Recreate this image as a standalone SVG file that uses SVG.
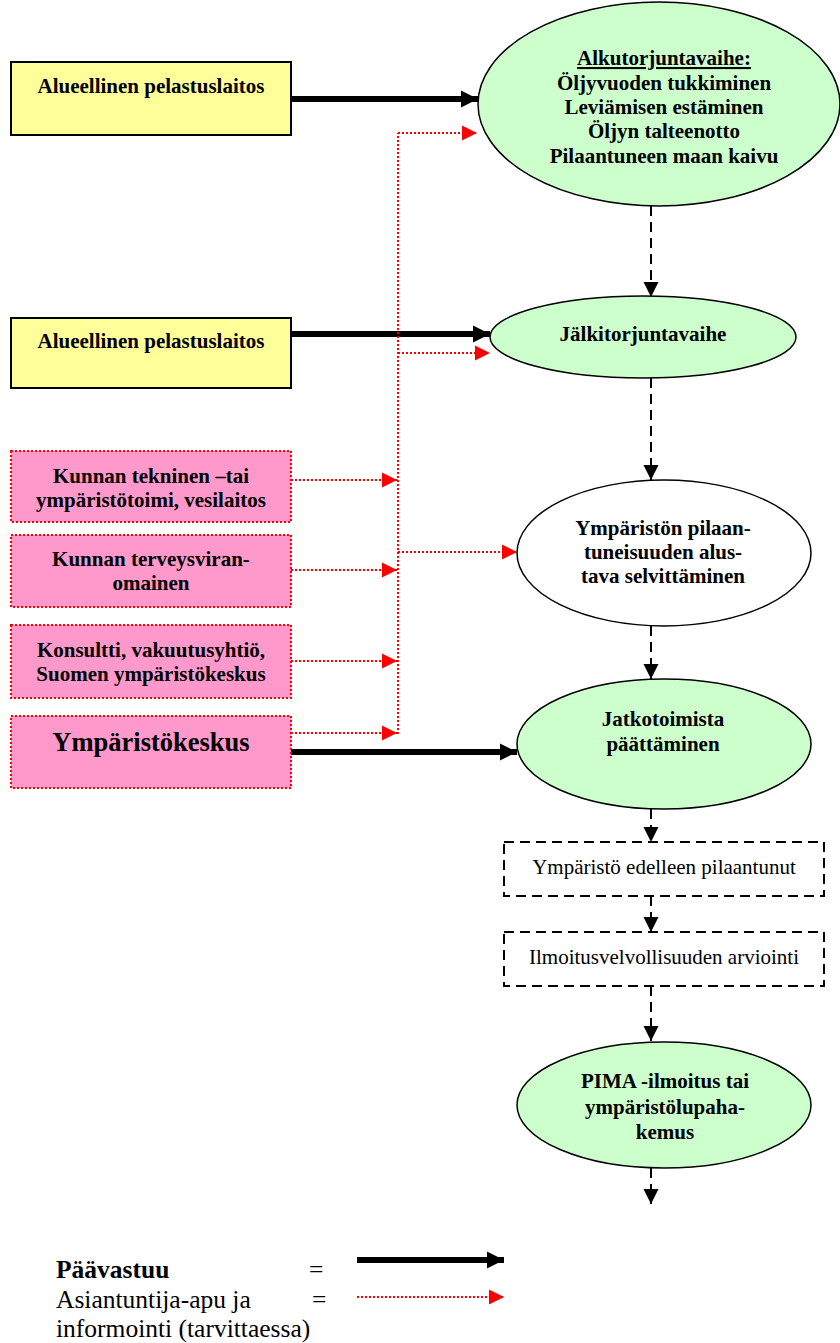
<svg xmlns="http://www.w3.org/2000/svg" width="840" height="1343" viewBox="0 0 840 1343">
<style>
.b{font-family:"Liberation Serif","Times New Roman",serif;font-weight:bold;font-size:21px;fill:#000;text-anchor:middle}
.n{font-family:"Liberation Serif","Times New Roman",serif;font-size:21px;fill:#000;text-anchor:middle}
.yl{fill:#FFFF99;stroke:#000;stroke-width:2}
.pk{fill:#FF99CC;stroke:#FF0000;stroke-width:2;stroke-dasharray:2,2}
.el{fill:#CCFFCC;stroke:#000;stroke-width:1.5}
.dbox{fill:#fff;stroke:#000;stroke-width:2;stroke-dasharray:10,6}
.main{stroke:#000;stroke-width:6;fill:none}
.red{stroke:#FF0000;stroke-width:2;stroke-dasharray:2,2;fill:none}
.dash{stroke:#000;stroke-width:2;stroke-dasharray:10,6;fill:none}
.lg{font-family:"Liberation Serif","Times New Roman",serif;font-size:25.5px;fill:#000}
</style>
<defs>
<marker id="hb" markerWidth="18" markerHeight="18" refX="17" refY="9" orient="auto" markerUnits="userSpaceOnUse"><path d="M0,0.5 L17,9 L0,17.5 Z" fill="#000"/></marker>
<marker id="hr" markerWidth="16" markerHeight="16" refX="15" refY="8" orient="auto" markerUnits="userSpaceOnUse"><path d="M0,0.5 L15,8 L0,15.5 Z" fill="#FF0000"/></marker>
<marker id="hd" markerWidth="16" markerHeight="16" refX="15" refY="8" orient="auto" markerUnits="userSpaceOnUse"><path d="M0,0.5 L15,8 L0,15.5 Z" fill="#000"/></marker>
</defs>

<g id="connectors">
<path class="main" d="M291,99 H478" marker-end="url(#hb)"/>
<path class="main" d="M291,334 H490" marker-end="url(#hb)"/>
<path class="main" d="M291,752 H517" marker-end="url(#hb)"/>
<path class="red" d="M398,734 V133"/>
<path class="red" d="M398,133 H477" marker-end="url(#hr)"/>
<path class="red" d="M398,353 H490" marker-end="url(#hr)"/>
<path class="red" d="M398,552 H517" marker-end="url(#hr)"/>
<path class="red" d="M291,480 H397" marker-end="url(#hr)"/>
<path class="red" d="M291,570 H397" marker-end="url(#hr)"/>
<path class="red" d="M291,661 H397" marker-end="url(#hr)"/>
<path class="red" d="M291,733 H397" marker-end="url(#hr)"/>
<path class="dash" d="M651,206 V297" marker-end="url(#hd)"/>
<path class="dash" d="M651,378 V480" marker-end="url(#hd)"/>
<path class="dash" d="M651,626 V679" marker-end="url(#hd)"/>
<path class="dash" d="M651,809 V842" marker-end="url(#hd)"/>
<path class="dash" d="M651,896 V932" marker-end="url(#hd)"/>
<path class="dash" d="M651,986 V1041" marker-end="url(#hd)"/>
<path class="dash" d="M651,1168 V1204" marker-end="url(#hd)"/>
</g>

<g id="n-alueellinen1">
<rect class="yl" x="11" y="62" width="280" height="73"/>
<text class="b" x="151" y="93">Alueellinen pelastuslaitos</text>
</g>
<g id="n-alkutorjunta">
<ellipse class="el" cx="659" cy="104" rx="181" ry="102"/>
<text class="b" x="664" y="65" text-decoration="underline">Alkutorjuntavaihe:</text>
<text class="b" x="664" y="89.5">Öljyvuoden tukkiminen</text>
<text class="b" x="664" y="113.5">Leviämisen estäminen</text>
<text class="b" x="664" y="138">Öljyn talteenotto</text>
<text class="b" x="664" y="162.5">Pilaantuneen maan kaivu</text>
</g>
<g id="n-alueellinen2">
<rect class="yl" x="11" y="318" width="280" height="70"/>
<text class="b" x="151" y="348">Alueellinen pelastuslaitos</text>
</g>
<g id="n-jalkitorjunta">
<ellipse class="el" cx="643" cy="337" rx="153" ry="41"/>
<text class="b" x="643" y="341">Jälkitorjuntavaihe</text>
</g>
<g id="n-kunnan-tekninen">
<rect class="pk" x="11" y="451" width="280" height="71"/>
<text class="b" x="151" y="483">Kunnan tekninen –tai</text>
<text class="b" x="151" y="507">ympäristötoimi, vesilaitos</text>
</g>
<g id="n-kunnan-terveys">
<rect class="pk" x="11" y="535" width="280" height="72"/>
<text class="b" x="151" y="566">Kunnan terveysviran-</text>
<text class="b" x="151" y="590">omainen</text>
</g>
<g id="n-konsultti">
<rect class="pk" x="11" y="625" width="280" height="73"/>
<text class="b" x="151" y="657">Konsultti, vakuutusyhtiö,</text>
<text class="b" x="151" y="681">Suomen ympäristökeskus</text>
</g>
<g id="n-ymparistokeskus">
<rect class="pk" x="11" y="716" width="280" height="72"/>
<text class="b" x="151" y="751" style="font-size:26.5px">Ympäristökeskus</text>
</g>
<g id="n-selvittaminen">
<ellipse fill="#fff" stroke="#000" stroke-width="1.5" cx="664" cy="553" rx="147" ry="73"/>
<text class="b" x="663" y="535">Ympäristön pilaan-</text>
<text class="b" x="663" y="559">tuneisuuden alus-</text>
<text class="b" x="663" y="583">tava selvittäminen</text>
</g>
<g id="n-jatkotoimista">
<ellipse class="el" cx="664" cy="744" rx="147" ry="65"/>
<text class="b" x="663" y="726">Jatkotoimista</text>
<text class="b" x="663" y="751">päättäminen</text>
</g>
<g id="n-edelleen">
<rect class="dbox" x="504" y="842" width="320" height="54"/>
<text class="n" x="664" y="874">Ympäristö edelleen pilaantunut</text>
</g>
<g id="n-ilmoitus">
<rect class="dbox" x="504" y="932" width="320" height="54"/>
<text class="n" x="664" y="964">Ilmoitusvelvollisuuden arviointi</text>
</g>
<g id="n-pima">
<ellipse class="el" cx="664" cy="1105" rx="147" ry="63"/>
<text class="b" x="665" y="1088">PIMA -ilmoitus tai</text>
<text class="b" x="665" y="1114">ympäristölupaha-</text>
<text class="b" x="665" y="1139">kemus</text>
</g>

<g id="legend">
<text class="lg" x="56" y="1278" font-weight="bold">Päävastuu</text>
<text class="lg" x="309" y="1278">=</text>
<text class="lg" x="56" y="1308">Asiantuntija-apu ja</text>
<text class="lg" x="312" y="1308">=</text>
<text class="lg" x="56" y="1337">informointi (tarvittaessa)</text>
<path class="main" d="M357,1260 H504" marker-end="url(#hb)"/>
<path class="red" d="M357,1297 H504" marker-end="url(#hr)"/>
</g>
</svg>
